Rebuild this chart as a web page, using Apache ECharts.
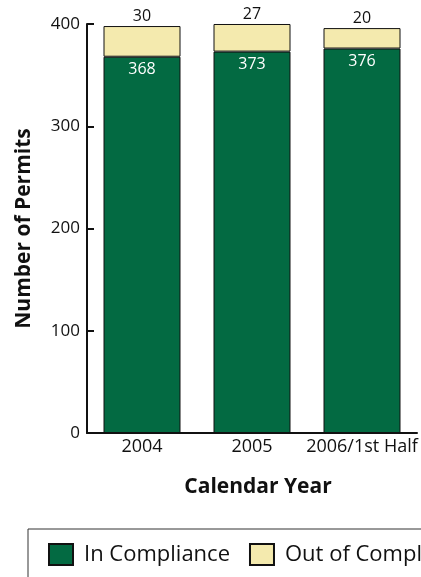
<!DOCTYPE html>
<html>
<head>
<meta charset="utf-8">
<script src="https://cdn.jsdelivr.net/npm/echarts@6/dist/echarts.min.js"></script>
<style>
html,body{margin:0;padding:0;background:#fff;}
#c{width:421px;height:577px;}
</style>
</head>
<body>
<div id="c"></div>
<script>
var categories = ['2004', '2005', '2006/1st Half'];
var inCompliance = [368, 373, 376];
var outOfCompliance = [30, 27, 20];
var yTicks = [0, 100, 200, 300, 400];

var FONT = '"Open Sans", "Noto Sans", sans-serif';
var chart = echarts.init(document.getElementById('c'), null, {renderer: 'canvas'});
chart.setOption({
  animation: false,
  backgroundColor: '#ffffff',
  grid: {left: 87, right: 4, top: 24, bottom: 144, containLabel: false},
  legend: {
    left: 28, top: 529, width: 600,
    orient: 'horizontal',
    padding: [14, 20, 14, 20],
    borderColor: '#333', borderWidth: 1,
    itemWidth: 24, itemHeight: 21, itemGap: 19,
    icon: 'rect',
    textStyle: {fontFamily: FONT, fontSize: 22, color: '#111', padding: [0, 0, 0, 6]},
    data: ['In Compliance', 'Out of Compliance']
  },
  xAxis: {
    type: 'category',
    data: categories,
    name: 'Calendar Year',
    nameLocation: 'middle',
    nameGap: 44,
    nameTextStyle: {fontFamily: FONT, fontSize: 21, fontWeight: 'bold', color: '#111', padding: [0, 0, 0, 12]},
    axisLine: {lineStyle: {color: '#111', width: 2}},
    axisTick: {inside: true, length: 10, lineStyle: {color: '#111', width: 2}},
    axisLabel: {interval: 0, fontFamily: FONT, fontSize: 18, color: '#111', margin: 5}
  },
  yAxis: {
    type: 'value',
    min: yTicks[0], max: yTicks[yTicks.length - 1], interval: 100,
    name: 'Number of Permits',
    nameLocation: 'middle',
    nameGap: 52,
    nameTextStyle: {fontFamily: FONT, fontSize: 21, fontWeight: 'bold', color: '#111'},
    axisLine: {show: true, lineStyle: {color: '#111', width: 2}},
    axisTick: {show: true, inside: true, length: 7, lineStyle: {color: '#111', width: 2}},
    axisLabel: {fontFamily: FONT, fontSize: 17, color: '#111', margin: 7},
    splitLine: {show: false}
  },
  series: [
    {
      name: 'In Compliance', type: 'bar', stack: 'total',
      barWidth: '70%',
      data: inCompliance,
      itemStyle: {color: '#036a42', borderColor: '#111', borderWidth: 1},
      label: {show: true, position: 'insideTop', distance: 5, color: '#fff', fontFamily: FONT, fontSize: 16}
    },
    {
      name: 'Out of Compliance', type: 'bar', stack: 'total',
      barWidth: '70%',
      data: outOfCompliance,
      itemStyle: {color: '#f4eaae', borderColor: '#111', borderWidth: 1},
      label: {show: true, position: 'top', distance: 2, color: '#111', fontFamily: FONT, fontSize: 16}
    }
  ]
});
</script>
</body>
</html>
